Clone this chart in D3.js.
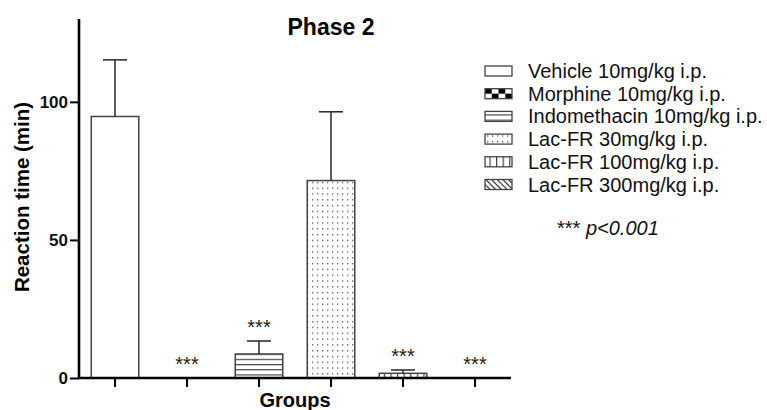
<!DOCTYPE html>
<html>
<head>
<meta charset="utf-8">
<script src="https://cdn.jsdelivr.net/npm/d3@7"></script>
<style>
  body { margin: 0; background: #fff; }
  text { font-family: "Liberation Sans", Arial, sans-serif; }
</style>
</head>
<body>
<svg width="767" height="410"></svg>
<script>
// data
groups = ["Vehicle 10mg/kg i.p.", "Morphine 10mg/kg i.p.", "Indomethacin 10mg/kg i.p.",
          "Lac-FR 30mg/kg i.p.", "Lac-FR 100mg/kg i.p.", "Lac-FR 300mg/kg i.p."];
means = [94.7, 0, 8.7, 71.5, 1.7, 0];
sems = [20.5, 0, 4.7, 24.9, 1.2, 0];
stars = ["", "***", "***", "", "***", "***"];
fills = ["white", "url(#checkL)", "url(#hlines)", "url(#dots)", "url(#vlines)", "url(#diag)"];
yTicks = [0, 50, 100];

svg = d3.select("svg");
legY = 71, legStep = 22.7;

//patterns
defs = svg.append("defs");
p = defs.append("pattern").attr("id", "hlines").attr("patternUnits", "userSpaceOnUse")
  .attr("width", 8).attr("height", 5.2);
p.append("rect").attr("width", 8).attr("height", 5.2).attr("fill", "white");
p.append("line").attr("x1", 0).attr("x2", 8).attr("y1", 0.6).attr("y2", 0.6)
  .attr("stroke", "#333").attr("stroke-width", 1.1);

p = defs.append("pattern").attr("id", "vlines").attr("patternUnits", "userSpaceOnUse")
  .attr("width", 6.6).attr("height", 8).attr("x", 1);
p.append("rect").attr("width", 6.6).attr("height", 8).attr("fill", "white");
p.append("line").attr("y1", 0).attr("y2", 8).attr("x1", 0.6).attr("x2", 0.6)
  .attr("stroke", "#333").attr("stroke-width", 1.1);

p = defs.append("pattern").attr("id", "dots").attr("patternUnits", "userSpaceOnUse")
  .attr("width", 5).attr("height", 5.8);
p.append("rect").attr("width", 5).attr("height", 5.8).attr("fill", "white");
p.append("rect").attr("x", 2).attr("y", 2).attr("width", 1.3).attr("height", 1.3).attr("fill", "#555");

p = defs.append("pattern").attr("id", "diag").attr("patternUnits", "userSpaceOnUse")
  .attr("width", 4).attr("height", 4).attr("patternTransform", "rotate(-45)");
p.append("rect").attr("width", 4).attr("height", 4).attr("fill", "white");
p.append("line").attr("x1", 0).attr("x2", 0).attr("y1", 0).attr("y2", 4)
  .attr("stroke", "#222").attr("stroke-width", 2.2);

p = defs.append("pattern").attr("id", "checkL").attr("patternUnits", "userSpaceOnUse")
  .attr("width", 13.5).attr("height", 10).attr("x", 485).attr("y", legY + legStep - 5);
p.append("rect").attr("width", 13.5).attr("height", 10).attr("fill", "white");
p.append("rect").attr("width", 6.75).attr("height", 5).attr("fill", "black");
p.append("rect").attr("x", 6.75).attr("y", 5).attr("width", 6.75).attr("height", 5).attr("fill", "black");

//scales
xs = d3.scaleBand().domain(groups).range([79, 511]).paddingInner(0.34).paddingOuter(0.17);
ys = d3.scaleLinear().domain([0, 130]).range([378, 19]);

//bars
svg.append("g").selectAll("rect").data(groups).enter().append("rect")
  .attr("x", function(d){ return xs(d); })
  .attr("y", function(d, i){ return ys(means[i]); })
  .attr("width", xs.bandwidth())
  .attr("height", function(d, i){ return ys(0) - ys(means[i]); })
  .attr("fill", function(d, i){ return fills[i]; })
  .attr("stroke", "#444")
  .attr("stroke-width", 1.5);

//error bars
eg = svg.append("g").attr("stroke", "#333").attr("stroke-width", 1.6);
groups.forEach(function(d, i){
  if (sems[i] <= 0) return;
  cx = xs(d) + xs.bandwidth() / 2;
  eg.append("line").attr("x1", cx).attr("x2", cx)
    .attr("y1", ys(means[i])).attr("y2", ys(means[i] + sems[i]));
  eg.append("line").attr("x1", cx - 12).attr("x2", cx + 12)
    .attr("y1", ys(means[i] + sems[i])).attr("y2", ys(means[i] + sems[i]));
});

//stars
svg.append("g").selectAll("text").data(groups).enter().append("text")
  .attr("x", function(d){ return xs(d) + xs.bandwidth() / 2; })
  .attr("y", function(d, i){ return ys(means[i] + sems[i]) - 7; })
  .attr("text-anchor", "middle")
  .attr("font-size", 20)
  .attr("fill", "#222")
  .text(function(d, i){ return stars[i]; });

//y axis
ya = svg.append("g").attr("transform", "translate(79,0)")
  .call(d3.axisLeft(ys).tickValues(yTicks).tickSize(9).tickPadding(2).tickFormat(d3.format("d")));
ya.select(".domain").attr("stroke-width", 2.6).attr("d", "M0," + ys(130) + "V" + ys(0));
ya.selectAll(".tick line").attr("stroke-width", 2);
ya.selectAll(".tick text").attr("font-size", 17).attr("font-weight", "bold")
  .attr("font-family", "Liberation Sans, Arial, sans-serif").attr("fill", "#111");

//x axis
xa = svg.append("g").attr("transform", "translate(0,378)")
  .call(d3.axisBottom(xs).tickSize(8).tickFormat(""));
xa.select(".domain").attr("stroke-width", 2.6).attr("d", "M79,0H511");
xa.selectAll(".tick line").attr("stroke-width", 2)
  .attr("transform", "translate(0,1)");

//titles
svg.append("text").attr("x", 331).attr("y", 35).attr("text-anchor", "middle")
  .attr("font-size", 23).attr("font-weight", "bold").text("Phase 2");
svg.append("text").attr("transform", "translate(29,197) rotate(-90)")
  .attr("text-anchor", "middle").attr("font-size", 20.5).attr("font-weight", "bold")
  .text("Reaction time (min)");
svg.append("text").attr("x", 295).attr("y", 407).attr("text-anchor", "middle")
  .attr("font-size", 20).attr("font-weight", "bold").text("Groups");

//legend
lg = svg.append("g");
groups.forEach(function(d, i){
  yy = legY + i * legStep;
  lg.append("rect").attr("x", 485).attr("y", yy - 5).attr("width", 27).attr("height", 10)
    .attr("fill", fills[i]).attr("stroke", "#444").attr("stroke-width", 1.3);
  lg.append("text").attr("x", 528).attr("y", yy + 7).attr("font-size", 20).attr("fill", "#111").text(d);
});
pt = lg.append("text").attr("x", 557).attr("y", 235).attr("font-size", 20).attr("fill", "#111");
pt.append("tspan").text("*** ");
pt.append("tspan").attr("font-style", "italic").text("p<0.001");
</script>
</body>
</html>
